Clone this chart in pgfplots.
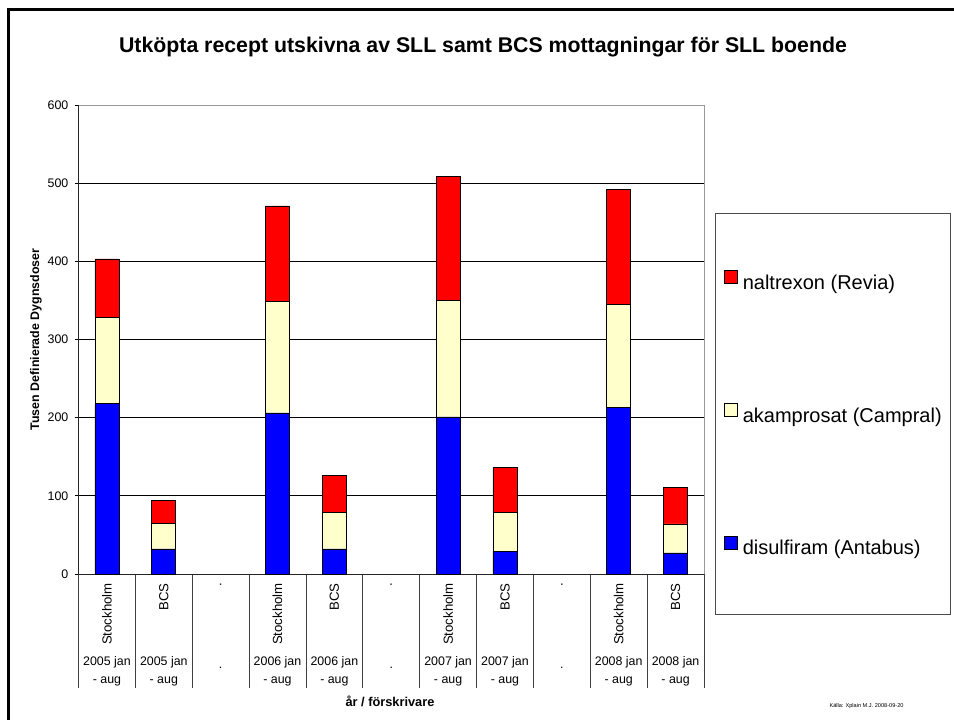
\documentclass[border=0pt]{standalone}
\usepackage{pgfplots}
\pgfplotsset{compat=1.18}
\usepackage{fontspec}
\setmainfont{Liberation Sans}
\definecolor{cream}{HTML}{FFFFCC}
\definecolor{barblue}{HTML}{0000FF}
\definecolor{barred}{HTML}{FF0000}
\newcommand{\ticksize}{\fontsize{12.4}{18}\selectfont}
\tikzset{rowtwo/.style={anchor=north, align=center, font=\ticksize, inner sep=0pt},
  sep/.style={draw=black!75, line width=0.8pt}}
\begin{document}
\begin{tikzpicture}[x=1pt,y=1pt]
\useasboundingbox (0,0) rectangle (954,720);
\draw[line width=3pt] (8,-20) -- (8,710) -- (980,710);
\node[font=\bfseries\fontsize{21.3}{24}\selectfont] at (483,673) {Utköpta recept utskivna av SLL samt BCS mottagningar för SLL boende};
\draw[black!70, line width=0.8pt] (715.5,506.7) rectangle (950,106);
\node[font=\fontsize{5.6}{6}\selectfont] at (866.5,14.3) {Källa: Xplain M.J. 2008-09-20};
\begin{axis}[
  at={(78.5pt,146pt)}, anchor=south west,
  scale only axis, width=625.5pt, height=469pt,
  ybar stacked, bar width=24pt,
  every axis plot post/.append style={/pgfplots/legend image code/.code={\draw[##1,draw=black,line width=0.6pt] (0pt,1pt) rectangle (13pt,14pt);}},
  xmin=-0.5, xmax=10.5, ymin=0, ymax=600,
  clip=false,
  axis line style={draw=black!40, line width=0.8pt},
  ytick={0,100,...,600},
  ymajorgrids, major grid style={black, line width=0.8pt},
  tick align=outside, major tick length=4pt,
  ytick style={black, line width=0.8pt},
  ytick pos=left, xtick pos=bottom,
  yticklabel style={font=\ticksize, inner sep=0pt, xshift=-6pt},
  /pgf/number format/assume math mode=true,
  xtick={0,...,10},
  xticklabels={Stockholm,BCS,.,Stockholm,BCS,.,Stockholm,BCS,.,Stockholm,BCS},
  xtick style={draw=none},
  xticklabel style={font=\fontsize{13.2}{15}\selectfont, rotate=90, anchor=east, inner sep=0pt, xshift=-5pt},
  ylabel={Tusen Definierade Dygnsdoser},
  ylabel style={font=\bfseries\fontsize{12.4}{14}\selectfont, at={(axis description cs:-0.0679,0.5)}, anchor=center},
  xlabel={år / förskrivare},
  xlabel style={font=\bfseries\fontsize{12.8}{14}\selectfont, at={(axis description cs:0.498,-0.2723)}, anchor=center},
  reverse legend,
  legend style={at={(axis description cs:1.032,0.3404)}, anchor=west, draw=none, fill=none, inner sep=0pt,
    row sep=109.5pt, column sep=5pt, font=\fontsize{20}{24}\selectfont,
    nodes={inner sep=0pt, text height=14pt, text depth=4pt}},
  legend cell align=left,
]
\addplot[fill=barblue, draw=black, line width=0.6pt] coordinates {(0,218) (1,32) (3,206) (4,32) (6,201) (7,29) (9,213) (10,27)};
\addplot[fill=cream, draw=black, line width=0.6pt] coordinates {(0,110) (1,33) (3,143) (4,47) (6,149) (7,50) (9,132) (10,37)};
\addplot[fill=barred, draw=black, line width=0.6pt] coordinates {(0,75) (1,29) (3,122) (4,47) (6,159) (7,57) (9,147) (10,47)};
\legend{disulfiram (Antabus),akamprosat (Campral),naltrexon (Revia)}
\draw[black!85, line width=0.8pt] (rel axis cs:0,1) -- (rel axis cs:0,0) -- (rel axis cs:1,0);
\draw[sep] (axis cs:-0.5,0) -- ++(0pt,-114pt);
\draw[sep] (axis cs:0.5,0) -- ++(0pt,-114pt);
\draw[sep] (axis cs:1.5,0) -- ++(0pt,-114pt);
\draw[sep] (axis cs:2.5,0) -- ++(0pt,-114pt);
\draw[sep] (axis cs:3.5,0) -- ++(0pt,-114pt);
\draw[sep] (axis cs:4.5,0) -- ++(0pt,-114pt);
\draw[sep] (axis cs:5.5,0) -- ++(0pt,-114pt);
\draw[sep] (axis cs:6.5,0) -- ++(0pt,-114pt);
\draw[sep] (axis cs:7.5,0) -- ++(0pt,-114pt);
\draw[sep] (axis cs:8.5,0) -- ++(0pt,-114pt);
\draw[sep] (axis cs:9.5,0) -- ++(0pt,-114pt);
\draw[sep] (axis cs:10.5,0) -- ++(0pt,-114pt);
\node[rowtwo] at ([yshift=-82pt]axis cs:0,0) {2005 jan\\- aug};
\node[rowtwo] at ([yshift=-82pt]axis cs:1,0) {2005 jan\\- aug};
\node[rowtwo] at ([yshift=-82pt]axis cs:2,0) {.\strut};
\node[rowtwo] at ([yshift=-82pt]axis cs:3,0) {2006 jan\\- aug};
\node[rowtwo] at ([yshift=-82pt]axis cs:4,0) {2006 jan\\- aug};
\node[rowtwo] at ([yshift=-82pt]axis cs:5,0) {.\strut};
\node[rowtwo] at ([yshift=-82pt]axis cs:6,0) {2007 jan\\- aug};
\node[rowtwo] at ([yshift=-82pt]axis cs:7,0) {2007 jan\\- aug};
\node[rowtwo] at ([yshift=-82pt]axis cs:8,0) {.\strut};
\node[rowtwo] at ([yshift=-82pt]axis cs:9,0) {2008 jan\\- aug};
\node[rowtwo] at ([yshift=-82pt]axis cs:10,0) {2008 jan\\- aug};
\end{axis}
\end{tikzpicture}
\end{document}
